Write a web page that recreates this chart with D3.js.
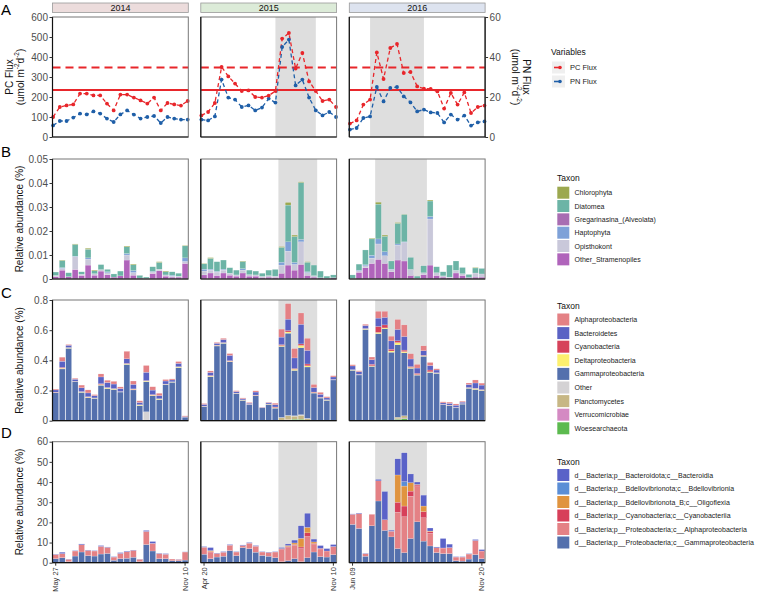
<!DOCTYPE html>
<html><head><meta charset="utf-8">
<script src="https://cdn.jsdelivr.net/npm/d3@7"></script>
<style>body{margin:0;background:#fff}svg{display:block}text{font-family:"Liberation Sans",Arial,Helvetica,sans-serif}</style>
</head><body><svg id="chart" width="757" height="596"></svg>
<script>
// ---------------- DATA ----------------
const years = ["2014", "2015", "2016"];
const startLabels = ["May 27", "Apr 20", "Jun 09"];
const endLabels = ["Nov 10", "Nov 10", "Nov 20"];
const shadeIdx = [null, [11, 17], [3, 11]];   // grey bloom window (sample index)

// Panel A: fluxes
const pcFlux = [
  [100,150,158,163,217,217,208,208,167,133,212,212,197,183,167,197,133,170,163,157,180],
  [108,125,170,350,303,267,230,233,200,197,207,230,492,520,342,420,278,230,180,187,150],
  [67,83,162,187,423,290,445,465,320,325,253,242,240,228,142,220,162,223,120,150,157]
];
const pnFlux = [
  [5.8,8.0,8.0,9.7,11.7,11.3,12.8,11.7,9.2,7.5,11.3,13.3,11.2,9.2,10.0,10.5,7.0,10.0,9.2,8.7,8.7],
  [8.7,8.3,10.3,28.7,19.7,18.7,15.0,15.8,13.3,14.7,19.2,17.2,45.0,48.7,25.8,28.7,19.7,13.3,10.8,12.5,10.0],
  [3.7,4.5,9.5,10.3,25.0,17.8,24.5,25.0,20.3,17.3,12.8,13.7,12.3,12.0,7.3,11.2,8.7,10.7,5.7,7.3,7.8]
];
const pcRefDashed = 348, pcRefSolid = 235;
const ticksPC = [0,100,200,300,400,500,600];
const ticksPN = [0,20,40,60];

// Panel B: eukaryotes
const taxaB = ["Chlorophyta","Diatomea","Gregarinasina_(Alveolata)","Haptophyta","Opisthokont","Other_Stramenopiles"];
const B_Other_Stramenopiles = [
  [0.0010,0.0037,0.0010,0.0040,0.0015,0.0058,0.0016,0.0033,0.0018,0.0008,0.0013,0.0079,0.0016,0.0004,0.0002,0.0023,0.0034,0.0012,0.0008,0.0008,0.0065],
  [0.0017,0.0025,0.0015,0.0025,0.0016,0.0012,0.0025,0.0012,0.0012,0.0007,0.0008,0.0007,0.0024,0.0058,0.0037,0.0061,0.0015,0.0008,0.0005,0.0003,0.0005],
  [0.0002,0.0028,0.0047,0.0065,0.0082,0.0065,0.0030,0.0079,0.0075,0.0015,0.0003,0.0018,0.0058,0.0015,0.0008,0.0005,0.0025,0.0015,0.0006,0.0008,0.0008]
];
const B_Opisthokont = [
  [0.0005,0.0007,0,0.0053,0.0005,0.0025,0.0006,0.0006,0.0008,0,0,0.0021,0.0011,0,0,0.0006,0.0007,0.0005,0.0004,0.0004,0.0008],
  [0.0016,0.0012,0.0014,0.0012,0.0008,0.0005,0.0012,0.0006,0.0005,0.0004,0.0006,0.0005,0.0034,0.0058,0.0024,0.0094,0.0012,0.0006,0,0,0],
  [0,0.0006,0.0008,0.0022,0.0064,0.0032,0.0008,0.0062,0.0078,0.0025,0,0.0008,0.0192,0.0011,0.0005,0.0003,0.0011,0.0007,0,0.0017,0.0013]
];
const B_Haptophyta = [
  [0,0.0003,0,0.0002,0,0.0005,0,0,0.0004,0,0,0.0006,0.0008,0,0,0.0003,0,0,0.0004,0,0.0015],
  [0.0008,0.0004,0.0003,0.0004,0,0,0.0006,0,0,0,0,0,0.0012,0.0039,0.0008,0.0010,0.0003,0,0,0,0],
  [0,0.0003,0.0004,0.0012,0.0021,0.0017,0.0003,0.0005,0.0002,0,0,0,0.0010,0,0,0,0,0,0,0,0]
];
const B_Gregarinasina = [
  [0,0,0,0,0,0,0,0,0,0,0,0,0,0,0,0,0,0,0,0,0],
  [0,0,0,0,0,0,0,0,0,0,0,0,0,0,0,0,0,0,0,0,0],
  [0,0,0,0,0,0,0,0,0,0,0,0,0,0,0,0,0,0,0,0,0]
];
const B_Diatomea = [
  [0.0014,0.0030,0.0016,0.0049,0.0010,0.0036,0.0012,0.0021,0.0010,0.0013,0.0020,0.0028,0.0024,0.0011,0.0006,0.0019,0.0028,0.0013,0.0014,0.0012,0.0050],
  [0.0022,0.0045,0.0040,0.0038,0.0023,0.0020,0.0030,0.0019,0.0016,0.0013,0.0023,0.0028,0.0062,0.0153,0.0108,0.0237,0.0040,0.0044,0.0028,0.0009,0.0012],
  [0.0015,0.0025,0.0062,0.0068,0.0145,0.0064,0.0034,0.0086,0.0114,0.0050,0.0009,0.0029,0.0065,0.0025,0.0017,0.0050,0.0039,0.0026,0.0013,0.0021,0.0023]
];
const B_Chlorophyta = [
  [0,0.0002,0,0.0002,0,0.0004,0.0003,0,0,0,0,0.0003,0.0003,0,0,0,0.0003,0.0003,0,0,0.0002],
  [0.0002,0.0003,0,0,0,0,0.0002,0,0,0,0,0,0.0003,0.0011,0.0006,0.0003,0.0002,0,0,0,0],
  [0,0,0,0.0003,0.0008,0.0005,0,0.0003,0.0001,0,0,0,0.0004,0,0,0,0,0,0,0.0002,0]
];
const ticksB = [0,0.01,0.02,0.03,0.04,0.05];

// Panel C: bacteria (class)
const taxaC = ["Alphaproteobacteria","Bacteroidetes","Cyanobacteria","Deltaproteobacteria","Gammaproteobacteria","Other","Planctomycetes","Verrucomicrobiae","Woesearchaeota"];
const C_Gamma = [
  [0.185,0.34,0.48,0.258,0.188,0.152,0.148,0.232,0.21,0.207,0.19,0.37,0.204,0.10,0.20,0.165,0.14,0.24,0.255,0.352,0.020],
  [0.09,0.292,0.495,0.513,0.39,0.18,0.135,0.105,0.163,0.085,0.108,0.08,0.47,0.545,0.30,0.444,0.34,0.18,0.15,0.135,0.27],
  [0.334,0.303,0.605,0.36,0.573,0.605,0.451,0.48,0.417,0.343,0.298,0.424,0.32,0.314,0.105,0.10,0.085,0.11,0.215,0.204,0.20]
];
const C_Delta = [
  [0.002,0.005,0.004,0.002,0.003,0.004,0.002,0.005,0.005,0.004,0.002,0.004,0.004,0.004,0.004,0.004,0.004,0.002,0.002,0.004,0],
  [0.002,0.004,0.004,0.003,0.004,0.002,0.002,0.002,0.002,0,0.002,0.004,0.006,0.008,0.008,0.015,0.008,0.004,0.003,0.002,0.002],
  [0.003,0.003,0.004,0.004,0.008,0.006,0.008,0.015,0.008,0.006,0.004,0.004,0.004,0.002,0.002,0.002,0.002,0.002,0.003,0.006,0.003]
];
const C_Cyano = [
  [0.002,0.006,0.001,0.001,0.002,0.003,0.001,0.005,0.002,0.002,0.001,0.003,0.003,0.002,0.003,0.004,0.002,0.001,0.001,0.002,0],
  [0.001,0.004,0.002,0.002,0.004,0.001,0.001,0.001,0.002,0,0.001,0.004,0.006,0.010,0.005,0.010,0.012,0.003,0.002,0.002,0.001],
  [0.001,0.001,0.002,0.010,0.040,0.020,0.012,0.012,0.010,0.006,0.008,0.003,0.012,0.002,0.001,0.001,0.001,0.001,0.002,0.002,0.003]
];
const C_Bacteroidetes = [
  [0.015,0.040,0.015,0.014,0.025,0.025,0.015,0.045,0.033,0.030,0.020,0.030,0.030,0.015,0.055,0.030,0.020,0.020,0.012,0.022,0.004],
  [0.012,0.020,0.012,0.020,0.035,0.010,0.008,0.008,0.020,0.003,0.008,0.015,0.050,0.075,0.070,0.130,0.090,0.030,0.020,0.012,0.017],
  [0.025,0.018,0.020,0.030,0.055,0.050,0.055,0.075,0.090,0.050,0.035,0.030,0.030,0.018,0.010,0.012,0.015,0.010,0.020,0.035,0.030]
];
const C_Alpha = [
  [0.006,0.027,0.005,0.006,0.018,0.020,0.007,0.020,0.015,0.018,0.011,0.050,0.022,0.011,0.045,0.022,0.016,0.010,0.007,0.012,0.005],
  [0.006,0.010,0.006,0.008,0.012,0.006,0.005,0.005,0.008,0.002,0.003,0.010,0.053,0.103,0.062,0.075,0.080,0.020,0.013,0.008,0.008],
  [0.008,0.006,0.008,0.018,0.045,0.040,0.031,0.066,0.077,0.035,0.024,0.032,0.020,0.008,0.007,0.008,0.008,0.006,0.010,0.020,0.013]
];
const C_Other = [
  [0,0,0,0,0,0,0,0,0,0,0,0,0,0,0.055,0,0,0,0,0,0.003],
  [0,0,0,0,0,0,0,0,0,0,0,0,0.003,0.003,0.003,0.005,0.003,0,0,0,0],
  [0,0,0,0,0,0,0,0,0,0,0,0,0,0,0,0,0,0,0,0,0]
];
const C_Plancto = [
  [0,0.003,0,0,0,0,0,0.003,0.003,0,0,0.003,0,0,0.004,0,0,0,0,0,0],
  [0.003,0,0,0,0,0,0,0,0.003,0,0,0.003,0.015,0.025,0.02,0.025,0.01,0.003,0,0,0],
  [0,0,0,0,0.004,0.004,0.003,0.010,0.015,0.004,0.004,0.003,0,0,0,0,0,0,0,0.003,0]
];
const C_Verruco = [
  [0,0,0,0,0,0,0,0,0,0,0,0,0,0,0,0,0,0,0,0,0],
  [0,0,0,0,0,0,0,0,0,0,0,0,0.002,0.002,0,0,0,0,0,0,0],
  [0,0,0,0,0,0,0,0.003,0.003,0,0,0,0,0,0,0,0,0,0,0,0]
];
const C_Woese = [
  [0,0,0,0,0,0,0,0,0,0,0,0,0,0,0,0,0,0,0,0,0],
  [0,0,0,0,0,0,0,0,0,0,0,0,0.002,0.005,0.01,0.01,0.003,0,0,0,0],
  [0,0,0,0,0,0,0,0.010,0.015,0,0,0,0,0,0,0,0,0,0,0,0]
];
const ticksC = [0,0.2,0.4,0.6,0.8];

// Panel D: bacteria (GTDB class)
const taxaD = ["d__Bacteria;p__Bacteroidota;c__Bacteroidia","d__Bacteria;p__Bdellovibrionota;c__Bdellovibrionia","d__Bacteria;p__Bdellovibrionota_B;c__Oligoflexia","d__Bacteria;p__Cyanobacteria;c__Cyanobacteriia","d__Bacteria;p__Proteobacteria;c__Alphaproteobacteria","d__Bacteria;p__Proteobacteria;c__Gammaproteobacteria"];
const D_Gamma = [
  [2,2.5,0.5,3.3,5.3,3.5,3.3,4.3,4.6,1.2,2,2.2,2.7,0.5,9,5.8,2,2,1,1,1.3],
  [4.2,2,2.8,3.2,6,3.5,7.5,7,5.2,3.6,3.2,2.5,0.5,1,2,0.5,2.5,5.3,3,2.8,4],
  [19,17,3.2,18.3,30.6,16,12.8,7,5,12,20.3,10.7,8.3,5,4.5,4.5,1,0.8,1.8,4,2]
];
const D_Alpha = [
  [2,2,1.2,2.5,3.6,2.6,2.5,3.8,3,1.6,2.6,3.2,3.4,1.2,6.5,3.8,2.5,2.2,0.8,0.6,4],
  [3.5,3,1.8,2,2.7,1.8,1,2.7,3,1.7,1.9,2.8,6,6.5,6.6,6.5,10.5,3.7,3.8,3,4],
  [5,7.3,1.2,5.7,10,5.3,2.8,18,17.8,21,17.4,11.6,6.2,2.4,2.5,3,1.8,2,2.5,7,3.5]
];
const D_Cyano = [
  [0,0,0,0,0,0,0,0,0,0,0,0,0,0,0,0,0,0,0,0,0],
  [0,0.5,0,0,0,0,0,0,0,0,0,0,0.3,0.5,0.4,0.8,1.8,0.5,0.3,0,0],
  [0,0,0,0,0,0,0,5,5.3,2.5,0.8,3,0.9,0,0.3,0,0,0,0,0,0.3]
];
const D_Oligo = [
  [0,0,0,0,0,0,0,0,0,0,0,0,0,0,0,0,0,0,0,0,0],
  [0,0.5,0,0,0,0,0,0,0,0,0,0,0.2,0.5,0.8,4.3,2.7,0.8,0,0,0],
  [0,0,0,0,0,0,0,13.5,9.9,4.2,0.3,2.8,0.3,0,0,0,0,0,0,0,0]
];
const D_Bdello = [
  [0,0,0,0,0,0,0,0,0,0,0,0,0,0,0,0,0,0,0,0,0],
  [0,0,0,0,0,0,0,0,0,0,0,0,0,0,0,0,0,0,0,0,0],
  [0,0,0,0,0,0,0,0,2.2,0,0,0,0,0,0,0,0,0,0,0,0]
];
const D_Bacteroidia = [
  [0.2,0.7,0.1,0.2,0.4,0.2,0.2,0.4,0.2,0.2,0.4,0.3,0.2,0.1,0.5,0.9,0.2,0.3,0,0.1,0.1],
  [0.3,1.5,0.2,0.3,0.3,0.2,0.3,0.3,0.3,0.2,0.2,0.2,0.5,0.8,1.4,6.2,7,1.4,1.4,1.2,1],
  [0.2,0.3,0.2,0,0.7,14,0.5,8,14.3,4.3,1.2,5.4,1.5,0.4,4.7,1.7,0.2,0.2,0.2,0.5,0.7]
];
const ticksD = [0,10,20,30,40,50,60];

// ---------------- LAYOUT ----------------
const svg = d3.select("#chart");
const N = 21;
const FX = [52.5, 200.8, 349.3], FW = 135.8;
const PANEL = {A: [17, 137], B: [159, 279], C: [300, 420.7], D: [441.7, 562.7]};
const red = "#e8262b", blue = "#1f5fa8";
const stripFill = ["#ecdcdc", "#dcebd8", "#dde3ef"];

function bandS(f) { return d3.scaleBand().domain(d3.range(N)).range([FX[f], FX[f] + FW]).paddingInner(0.1).paddingOuter(0.05); }
function pointS(f) { return d3.scalePoint().domain(d3.range(N)).range([FX[f] + 0.6, FX[f] + FW - 0.6]); }

function shade(key, f, isBars) {
  const s = shadeIdx[f]; if (!s) return;
  const [t, b] = PANEL[key];
  let x0, x1;
  if (isBars) {
    const sc = bandS(f), gap = (sc.step() - sc.bandwidth()) / 2;
    x0 = sc(s[0] + 1) - gap; x1 = sc(s[1]) + sc.bandwidth() + gap;
  } else { const sc = pointS(f); x0 = sc(s[0]); x1 = sc(s[1]); }
  svg.append("rect").attr("x", x0).attr("y", t).attr("width", x1 - x0).attr("height", b - t).attr("fill", "#dedede");
}
function frame(key, f) {
  const [t, b] = PANEL[key];
  svg.append("rect").attr("x", FX[f]).attr("y", t).attr("width", FW).attr("height", b - t)
    .attr("fill", "none").attr("stroke", "#777").attr("stroke-width", 1);
  svg.append("line").attr("x1", FX[f]).attr("x2", FX[f]).attr("y1", t).attr("y2", b).attr("stroke", "#111").attr("stroke-width", 1.2);
  svg.append("line").attr("x1", FX[f]).attr("x2", FX[f] + FW).attr("y1", b).attr("y2", b).attr("stroke", "#111").attr("stroke-width", 1.2);
}
function leftAxis(y, ticks, fmt) {
  const g = svg.append("g").attr("transform", `translate(${FX[0]},0)`)
    .call(d3.axisLeft(y).tickValues(ticks).tickFormat(fmt).tickSize(3).tickPadding(1.5));
  g.select(".domain").remove();
  g.selectAll("line").attr("stroke", "#333");
  g.selectAll("text").attr("fill", "#4d4d4d").attr("font-size", 10).attr("font-family", "Liberation Sans, Arial, sans-serif");
}
function yTitle(y, lines, rot) {
  lines.forEach(ln => {
    const t = svg.append("text").attr("transform", `translate(${ln.x},${y}) rotate(${rot})`)
      .attr("text-anchor", "middle").attr("dominant-baseline", "central").attr("font-size", 10).attr("fill", "#111");
    let raised = false;
    ln.parts.forEach(p => {
      const ts = t.append("tspan");
      if (p.sup) {
        ts.attr("font-size", 6.5).attr("dy", raised ? 0 : -3.5).text(p.sup); raised = true;
      } else {
        ts.attr("dy", raised ? 3.5 : 0).text(p.t); raised = false;
      }
    });
  });
}
const unitParts = [{t: "(umol m"}, {sup: "-2"}, {t: "d"}, {sup: "-2"}, {t: ")"}];

// ---------------- PANEL A ----------------
const yA = d3.scaleLinear().domain([0, 600]).range(PANEL.A.slice().reverse());
const yPN = d3.scaleLinear().domain([0, 60]).range(PANEL.A.slice().reverse());
years.forEach((yr, f) => {
  svg.append("rect").attr("x", FX[f]).attr("y", 3).attr("width", FW).attr("height", 9.5)
    .attr("fill", stripFill[f]).attr("stroke", "#999").attr("stroke-width", 0.8);
  svg.append("text").attr("x", FX[f] + FW / 2).attr("y", 8).attr("text-anchor", "middle")
    .attr("dominant-baseline", "central").attr("font-size", 9).attr("fill", "#111").text(yr);
  shade("A", f, false);
  const px = pointS(f);
  svg.append("line").attr("x1", FX[f]).attr("x2", FX[f] + FW).attr("y1", yA(pcRefDashed)).attr("y2", yA(pcRefDashed))
    .attr("stroke", red).attr("stroke-width", 2).attr("stroke-dasharray", "8,5");
  svg.append("line").attr("x1", FX[f]).attr("x2", FX[f] + FW).attr("y1", yA(pcRefSolid)).attr("y2", yA(pcRefSolid))
    .attr("stroke", red).attr("stroke-width", 2);
  const lnPC = d3.line().x((d, i) => px(i)).y(d => yA(d));
  const lnPN = d3.line().x((d, i) => px(i)).y(d => yPN(d));
  svg.append("path").attr("d", lnPN(pnFlux[f])).attr("fill", "none").attr("stroke", blue).attr("stroke-width", 1.3).attr("stroke-dasharray", "4,3");
  svg.append("path").attr("d", lnPC(pcFlux[f])).attr("fill", "none").attr("stroke", red).attr("stroke-width", 1.3).attr("stroke-dasharray", "4,3");
  svg.append("g").selectAll("circle").data(pnFlux[f]).join("circle").attr("cx", (d, i) => px(i)).attr("cy", d => yPN(d)).attr("r", 1.9).attr("fill", blue);
  svg.append("g").selectAll("circle").data(pcFlux[f]).join("circle").attr("cx", (d, i) => px(i)).attr("cy", d => yA(d)).attr("r", 1.9).attr("fill", red);
  frame("A", f);
});
{
  const xr = FX[2] + FW;
  svg.append("line").attr("x1", xr).attr("x2", xr).attr("y1", PANEL.A[0]).attr("y2", PANEL.A[1]).attr("stroke", "#111").attr("stroke-width", 1.2);
  const g = svg.append("g").attr("transform", `translate(${xr},0)`)
    .call(d3.axisRight(yPN).tickValues(ticksPN).tickSize(3).tickPadding(1.5));
  g.select(".domain").remove();
  g.selectAll("line").attr("stroke", "#333");
  g.selectAll("text").attr("fill", "#4d4d4d").attr("font-size", 10).attr("font-family", "Liberation Sans, Arial, sans-serif");
}
leftAxis(yA, ticksPC, d3.format("d"));
yTitle(77, [{x: 9, parts: [{t: "PC Flux"}]}, {x: 19.5, parts: unitParts}], -90);
yTitle(77, [{x: 527, parts: [{t: "PN Flux"}]}, {x: 516, parts: unitParts}], 90);

// ---------------- STACKED PANELS ----------------
function stacked(key, y, keysBottomUp, seriesList, colors) {
  years.forEach((yr, f) => {
    shade(key, f, true);
    const xb = bandS(f);
    const rows = d3.range(N).map(i => { const o = {i}; keysBottomUp.forEach((k, j) => o[k] = seriesList[j][f][i]); return o; });
    const st = d3.stack().keys(keysBottomUp)(rows);
    st.forEach((layer, j) => {
      svg.append("g").selectAll("rect").data(layer.filter(d => d[1] - d[0] > 0)).join("rect")
        .attr("x", d => xb(d.data.i)).attr("width", xb.bandwidth())
        .attr("y", d => y(d[1])).attr("height", d => Math.max(0, y(d[0]) - y(d[1])))
        .attr("fill", colors[j]).attr("stroke", "#fff").attr("stroke-width", 0.3).attr("stroke-opacity", 0.6);
    });
    frame(key, f);
  });
}
const yB = d3.scaleLinear().domain([0, 0.05]).range(PANEL.B.slice().reverse());
const yC = d3.scaleLinear().domain([0, 0.8]).range(PANEL.C.slice().reverse());
const yD = d3.scaleLinear().domain([0, 60]).range(PANEL.D.slice().reverse());

const colB = {"Chlorophyta": "#9ca84f", "Diatomea": "#6cb4a6", "Gregarinasina_(Alveolata)": "#a86db2", "Haptophyta": "#7ea1d8", "Opisthokont": "#c9c8da", "Other_Stramenopiles": "#b064bb"};
const orderB = ["Other_Stramenopiles","Opisthokont","Haptophyta","Gregarinasina_(Alveolata)","Diatomea","Chlorophyta"];
stacked("B", yB, orderB, [B_Other_Stramenopiles, B_Opisthokont, B_Haptophyta, B_Gregarinasina, B_Diatomea, B_Chlorophyta], orderB.map(k => colB[k]));

const colC = {"Alphaproteobacteria": "#e48185", "Bacteroidetes": "#5a62c4", "Cyanobacteria": "#d6425a", "Deltaproteobacteria": "#fdf06e", "Gammaproteobacteria": "#5470ad", "Other": "#d4d2d4", "Planctomycetes": "#c7b785", "Verrucomicrobiae": "#d48ac3", "Woesearchaeota": "#5cba4f"};
const orderC = ["Woesearchaeota","Verrucomicrobiae","Planctomycetes","Other","Gammaproteobacteria","Deltaproteobacteria","Cyanobacteria","Bacteroidetes","Alphaproteobacteria"];
stacked("C", yC, orderC, [C_Woese, C_Verruco, C_Plancto, C_Other, C_Gamma, C_Delta, C_Cyano, C_Bacteroidetes, C_Alpha], orderC.map(k => colC[k]));

const colD = ["#5a62c8", "#5b8ed6", "#e0943f", "#d7405a", "#e48185", "#5470ad"];
const orderD = [5, 4, 3, 2, 1, 0];
stacked("D", yD, orderD.map(i => taxaD[i]), [D_Gamma, D_Alpha, D_Cyano, D_Oligo, D_Bdello, D_Bacteroidia], orderD.map(i => colD[i]));

leftAxis(yB, ticksB, d => d === 0 ? "0" : d3.format(".2f")(d));
leftAxis(yC, ticksC, d => d === 0 ? "0" : d3.format(".1f")(d));
leftAxis(yD, ticksD, d3.format("d"));
[219, 360.5, 502].forEach(cy => yTitle(cy, [{x: 19, parts: [{t: "Relative abundance (%)"}]}], -90));

years.forEach((yr, f) => {
  const xb = bandS(f);
  [[0, startLabels[f]], [N - 1, endLabels[f]]].forEach(([i, lab]) => {
    const x = xb(i) + xb.bandwidth() / 2, yb = PANEL.D[1];
    svg.append("line").attr("x1", x).attr("x2", x).attr("y1", yb).attr("y2", yb + 3).attr("stroke", "#333");
    svg.append("text").attr("transform", `translate(${x},${yb + 4.5}) rotate(-90)`).attr("text-anchor", "end")
      .attr("dominant-baseline", "central").attr("font-size", 7.5).attr("fill", "#333").text(lab);
  });
});

[["A", 15], ["B", 157], ["C", 298], ["D", 438]].forEach(([l, y]) =>
  svg.append("text").attr("x", 1).attr("y", y).attr("font-size", 15).attr("fill", "#000").text(l));

// ---------------- LEGENDS ----------------
svg.append("text").attr("x", 551).attr("y", 55).attr("font-size", 8.5).attr("fill", "#111").text("Variables");
[["PC Flux", red, 67.5], ["PN Flux", blue, 81.5]].forEach(([lab, c, cy]) => {
  svg.append("rect").attr("x", 552).attr("y", cy - 6).attr("width", 13).attr("height", 12).attr("fill", "#efefef");
  svg.append("line").attr("x1", 554).attr("x2", 561).attr("y1", cy).attr("y2", cy).attr("stroke", c).attr("stroke-width", 1.6);
  svg.append("circle").attr("cx", 560).attr("cy", cy).attr("r", 1.8).attr("fill", c);
  svg.append("text").attr("x", 570).attr("y", cy).attr("dominant-baseline", "central").attr("font-size", 7.5).attr("fill", "#222").text(lab);
});
function legend(items, colors, titleY, startY, step) {
  svg.append("text").attr("x", 557).attr("y", titleY).attr("font-size", 8.5).attr("fill", "#111").text("Taxon");
  items.forEach((it, i) => {
    const y0 = startY + i * step;
    svg.append("rect").attr("x", 557.3).attr("y", y0).attr("width", 12).attr("height", 12).attr("fill", colors[i]);
    svg.append("text").attr("x", 574.5).attr("y", y0 + 6).attr("dominant-baseline", "central").attr("font-size", 7).attr("fill", "#222").text(it);
  });
}
legend(taxaB, taxaB.map(k => colB[k]), 180.5, 186.7, 13.33);
legend(taxaC, taxaC.map(k => colC[k]), 308.5, 313.5, 13.6);
legend(taxaD, colD, 464.5, 469, 13.5);
</script></body></html>
